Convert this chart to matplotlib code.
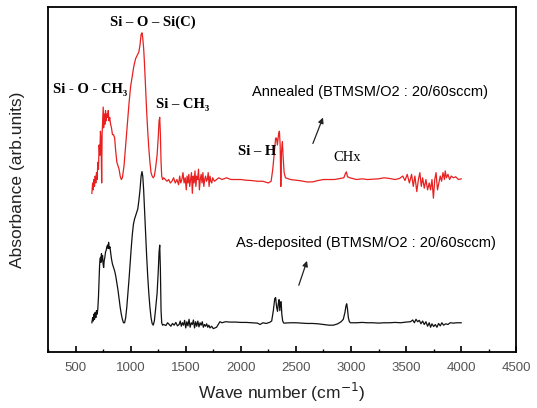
import matplotlib
matplotlib.use('Agg')
import matplotlib.pyplot as plt
from matplotlib.ticker import MultipleLocator

# annealed film spectrum (red), wave number / absorbance
ann_wave = [648, 655, 660, 666, 672, 678, 684, 690, 696, 702, 708, 714, 720, 726, 732, 737, 741, 746, 751, 755,
            760, 766, 772, 778, 784, 790, 797, 803, 810, 818, 826, 835, 845, 855, 865, 875, 885, 895, 905, 915,
            925, 940, 955, 970, 985, 1000, 1015, 1030, 1045, 1060, 1075, 1085, 1095, 1103, 1110, 1118, 1125, 1135,
            1145, 1155, 1165, 1175, 1185, 1195, 1205, 1215, 1225, 1240, 1250, 1258, 1264, 1270, 1276, 1282, 1290,
            1300, 1315, 1330, 1345, 1360, 1375, 1390, 1405, 1420, 1435, 1445, 1455, 1465, 1475, 1485, 1495, 1505,
            1512, 1520, 1528, 1536, 1544, 1552, 1560, 1568, 1576, 1584, 1592, 1600, 1608, 1616, 1624, 1632, 1640,
            1648, 1656, 1664, 1672, 1680, 1688, 1696, 1704, 1712, 1720, 1728, 1736, 1744, 1752, 1760, 1780, 1800,
            1830, 1870, 1910, 1950, 2000, 2050, 2100, 2150, 2200, 2250, 2275, 2290, 2305, 2316, 2324, 2332, 2342,
            2350, 2357, 2363, 2369, 2377, 2385, 2393, 2405, 2450, 2500, 2550, 2600, 2650, 2700, 2750, 2800, 2850,
            2900, 2935, 2950, 2958, 2968, 2990, 3050, 3100, 3150, 3200, 3250, 3300, 3350, 3400, 3440, 3470, 3490,
            3510, 3530, 3550, 3565, 3580, 3597, 3612, 3625, 3638, 3650, 3665, 3680, 3695, 3710, 3722, 3735, 3748,
            3760, 3772, 3785, 3797, 3810, 3822, 3835, 3848, 3855, 3866, 3880, 3895, 3910, 3930, 3950, 3975, 4000]
ann_abs = [0.46, 0.49, 0.47, 0.50, 0.48, 0.51, 0.49, 0.52, 0.50, 0.55, 0.53, 0.60, 0.57, 0.64, 0.61, 0.49, 0.63, 0.67, 0.71, 0.65,
           0.69, 0.66, 0.70, 0.67, 0.69, 0.68, 0.70, 0.67, 0.68, 0.66, 0.65, 0.63, 0.63, 0.62, 0.58, 0.55, 0.54, 0.53, 0.51, 0.50,
           0.505, 0.54, 0.60, 0.66, 0.72, 0.77, 0.80, 0.83, 0.85, 0.86, 0.87, 0.89, 0.92, 0.925, 0.91, 0.88, 0.84, 0.77,
           0.70, 0.64, 0.59, 0.55, 0.52, 0.51, 0.505, 0.51, 0.53, 0.57, 0.62, 0.67, 0.68, 0.63, 0.55, 0.51, 0.50,
           0.505, 0.50, 0.495, 0.50, 0.49, 0.495, 0.505, 0.49, 0.50, 0.485, 0.51, 0.49, 0.50, 0.52, 0.49, 0.505, 0.47,
           0.51, 0.49, 0.515, 0.48, 0.50, 0.52, 0.46, 0.51, 0.49, 0.525, 0.48, 0.51, 0.50, 0.53, 0.47, 0.50, 0.515,
           0.49, 0.52, 0.48, 0.50, 0.51, 0.495, 0.50, 0.52, 0.48, 0.51, 0.495, 0.49, 0.505, 0.50, 0.495, 0.50, 0.505,
           0.50, 0.505, 0.50, 0.50, 0.50, 0.498, 0.497, 0.495, 0.495, 0.49, 0.495, 0.53, 0.58, 0.62, 0.62, 0.60, 0.63,
           0.64, 0.60, 0.48, 0.58, 0.61, 0.56, 0.52, 0.505, 0.50, 0.498, 0.496, 0.493, 0.493, 0.497, 0.50, 0.50, 0.50,
           0.503, 0.505, 0.518, 0.522, 0.508, 0.505, 0.50, 0.502, 0.50, 0.501, 0.502, 0.505, 0.503, 0.50, 0.503, 0.51, 0.497,
           0.515, 0.49, 0.515, 0.48, 0.51, 0.465, 0.50, 0.52, 0.48, 0.505, 0.475, 0.50, 0.47, 0.49, 0.47, 0.50, 0.446,
           0.50, 0.52, 0.47, 0.49, 0.51, 0.495, 0.52, 0.50, 0.525, 0.505, 0.515, 0.50, 0.51, 0.505, 0.508, 0.50, 0.502]

# as-deposited film spectrum (black)
dep_wave = [648, 655, 660, 666, 672, 678, 684, 690, 696, 702, 708, 713, 718, 722, 727, 731, 735, 740, 745, 750,
            755, 760, 766, 772, 778, 784, 790, 796, 800, 806, 812, 818, 826, 835, 845, 855, 865, 875, 885, 895,
            905, 915, 925, 935, 945, 955, 965, 975, 985, 995, 1005, 1015, 1025, 1035, 1045, 1055, 1065, 1075, 1085,
            1095, 1103, 1110, 1118, 1125, 1135, 1145, 1155, 1165, 1175, 1185, 1195, 1205, 1215, 1225, 1240, 1250,
            1258, 1264, 1270, 1276, 1282, 1290, 1300, 1320, 1335, 1350, 1365, 1380, 1395, 1410, 1425, 1440, 1450,
            1460, 1470, 1480, 1490, 1500, 1510, 1520, 1530, 1540, 1550, 1560, 1570, 1580, 1590, 1600, 1610, 1620,
            1630, 1640, 1650, 1660, 1670, 1680, 1690, 1700, 1710, 1720, 1735, 1750, 1765, 1780, 1795, 1810, 1830,
            1860, 1900, 1950, 2000, 2050, 2100, 2150, 2175, 2200, 2230, 2260, 2280, 2295, 2308, 2316, 2325, 2333,
            2340, 2347, 2354, 2360, 2366, 2372, 2380, 2390, 2450, 2500, 2550, 2600, 2650, 2700, 2750, 2800, 2840,
            2880, 2910, 2930, 2945, 2955, 2961, 2968, 2976, 2985, 2995, 3050, 3100, 3150, 3200, 3250, 3300, 3350,
            3400, 3450, 3500, 3540, 3560, 3575, 3590, 3605, 3620, 3635, 3650, 3665, 3680, 3695, 3710, 3722, 3735,
            3750, 3765, 3780, 3795, 3810, 3825, 3840, 3860, 3880, 3900, 3930, 3960, 4000]
dep_abs = [0.085, 0.10, 0.09, 0.11, 0.095, 0.115, 0.10, 0.12, 0.11, 0.125, 0.16, 0.21, 0.25, 0.27, 0.275, 0.26, 0.285, 0.265, 0.28, 0.255,
           0.245, 0.265, 0.275, 0.29, 0.295, 0.305, 0.31, 0.30, 0.318, 0.30, 0.305, 0.29, 0.27, 0.255, 0.245, 0.235, 0.22, 0.20, 0.18, 0.155,
           0.13, 0.11, 0.095, 0.085, 0.085, 0.10, 0.13, 0.17, 0.21, 0.255, 0.30, 0.34, 0.37, 0.385, 0.395, 0.405, 0.415, 0.44, 0.47,
           0.51, 0.523, 0.51, 0.47, 0.42, 0.35, 0.28, 0.22, 0.17, 0.13, 0.10, 0.083, 0.078, 0.09, 0.12, 0.17, 0.23,
           0.29, 0.31, 0.24, 0.12, 0.085, 0.078, 0.08, 0.077, 0.085, 0.08, 0.075, 0.083, 0.078, 0.086, 0.076, 0.08, 0.09,
           0.075, 0.085, 0.078, 0.092, 0.07, 0.088, 0.076, 0.095, 0.072, 0.085, 0.08, 0.093, 0.07, 0.088, 0.075, 0.09, 0.073,
           0.085, 0.078, 0.088, 0.072, 0.08, 0.075, 0.082, 0.072, 0.078, 0.07, 0.075, 0.068, 0.07, 0.072, 0.08, 0.088, 0.085,
           0.088, 0.087, 0.087, 0.086, 0.086, 0.085, 0.084, 0.08, 0.085, 0.083, 0.086, 0.09, 0.12, 0.155, 0.158, 0.13, 0.118,
           0.14, 0.152, 0.12, 0.145, 0.146, 0.11, 0.09, 0.084, 0.085, 0.085, 0.084, 0.083, 0.083, 0.082, 0.08, 0.078, 0.078,
           0.082, 0.088, 0.095, 0.115, 0.135, 0.14, 0.125, 0.10, 0.088, 0.085, 0.085, 0.086, 0.085, 0.085, 0.084, 0.085, 0.085,
           0.086, 0.085, 0.087, 0.088, 0.093, 0.085, 0.095, 0.088, 0.092, 0.082, 0.09, 0.08, 0.088, 0.075, 0.085, 0.072, 0.082,
           0.074, 0.08, 0.072, 0.083, 0.076, 0.085, 0.078, 0.082, 0.08, 0.085, 0.084, 0.085, 0.085]

x_ticks = [500, 1000, 1500, 2000, 2500, 3000, 3500, 4000, 4500]

fig = plt.figure(figsize=(5.37, 4.08), dpi=100)
ax = fig.add_axes([0.0894, 0.137, 0.872, 0.846])

ax.plot(dep_wave, dep_abs, color='#111111', lw=0.9)
ax.plot(ann_wave, ann_abs, color='#e82020', lw=0.9)

ax.set_xlim(250, 4500)
ax.set_ylim(0, 1)
ax.set_xticks(x_ticks)
ax.xaxis.set_minor_locator(MultipleLocator(250))
ax.set_yticks([])
ax.tick_params(axis='x', which='major', direction='in', length=4, width=1.2, pad=7,
               labelsize=9.5, labelcolor='#555555')
ax.tick_params(axis='x', which='minor', direction='in', length=2.5, width=1)
for lbl in ax.get_xticklabels():
    lbl.set_family('Liberation Sans')
for sp in ax.spines.values():
    sp.set_linewidth(1.3)

# peak labels
serif = 'Liberation Serif'
ax.text(636, 0.76, 'Si - O - CH₃', family=serif, weight='bold', fontsize=10.5, ha='center', va='center')
ax.text(1200, 0.957, 'Si – O – Si(C)', family=serif, weight='bold', fontsize=10.5, ha='center', va='center')
ax.text(1473, 0.716, 'Si – CH₃', family=serif, weight='bold', fontsize=10.5, ha='center', va='center')
ax.text(2145, 0.58, 'Si – H', family=serif, weight='bold', fontsize=10.5, ha='center', va='center')
ax.text(2964, 0.565, 'CHx', family=serif, fontsize=10.5, ha='center', va='center')

ax.text(3173, 0.754, 'Annealed (BTMSM/O2 : 20/60sccm)', family='Liberation Sans', fontsize=10.5,
        ha='center', va='center')
ax.text(3136, 0.316, 'As-deposited (BTMSM/O2 : 20/60sccm)', family='Liberation Sans', fontsize=10.5,
        ha='center', va='center')
ax.annotate('', xy=(2755, 0.687), xytext=(2645, 0.597),
            arrowprops=dict(arrowstyle='-|>', color='#222222', lw=0.9, mutation_scale=8))
ax.annotate('', xy=(2609, 0.272), xytext=(2518, 0.186),
            arrowprops=dict(arrowstyle='-|>', color='#222222', lw=0.9, mutation_scale=8))

fig.text(0.525, 0.037, 'Wave number (cm$^{-1}$)', family='Liberation Sans', fontsize=12.5,
         ha='center', va='center', color='#222222')
fig.text(0.032, 0.559, 'Absorbance (arb.units)', family='Liberation Sans', fontsize=12.5,
         ha='center', va='center', rotation=90, color='#222222')

fig.savefig('out.png', dpi=100)
